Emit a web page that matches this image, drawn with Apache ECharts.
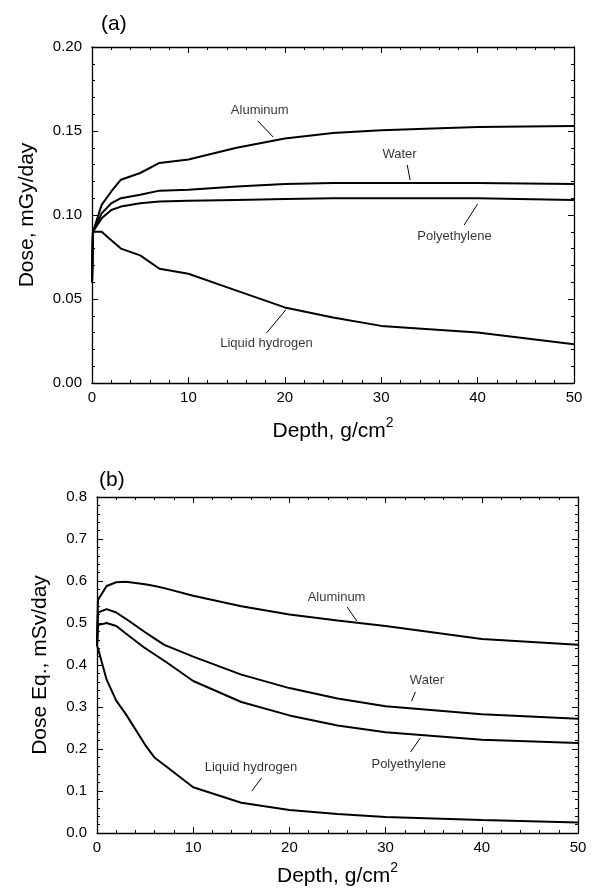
<!DOCTYPE html>
<html>
<head>
<meta charset="utf-8">
<script src="https://cdn.jsdelivr.net/npm/echarts@6/dist/echarts.min.js"></script>
<style>
html,body{margin:0;padding:0;background:#fff;}
#chart{width:595px;height:890px;}
</style>
</head>
<body>
<div id="chart"></div>
<script>
// ---------- Data ----------
const materials = ['Aluminum', 'Water', 'Polyethylene', 'Liquid hydrogen'];
const xTicks = [0, 10, 20, 30, 40, 50];

// Panel (a): Dose, mGy/day
const depthA = [0, 0.1, 1, 2, 3, 5, 7, 10, 15, 20, 25, 30, 40, 50];
const doseAluminum = [0.06, 0.09, 0.106, 0.114, 0.121, 0.125, 0.131, 0.133, 0.140, 0.1455, 0.1488, 0.1505, 0.1524, 0.153];
const doseWater = [0.06, 0.09, 0.101, 0.107, 0.110, 0.112, 0.1145, 0.115, 0.117, 0.1185, 0.119, 0.119, 0.119, 0.1185];
const dosePoly = [0.06, 0.09, 0.098, 0.103, 0.105, 0.107, 0.108, 0.1085, 0.109, 0.1095, 0.110, 0.110, 0.110, 0.109];
const doseLH2 = [0.06, 0.09, 0.09, 0.085, 0.080, 0.076, 0.068, 0.065, 0.055, 0.045, 0.039, 0.034, 0.030, 0.023];

// Panel (b): Dose Eq., mSv/day
const depthB = [0, 0.1, 1, 2, 3, 5, 6, 7, 10, 15, 20, 25, 30, 40, 50];
const eqAluminum = [0.445, 0.555, 0.588, 0.597, 0.598, 0.592, 0.588, 0.583, 0.565, 0.540, 0.520, 0.506, 0.493, 0.462, 0.448];
const eqWater = [0.445, 0.525, 0.533, 0.525, 0.510, 0.478, 0.463, 0.448, 0.420, 0.377, 0.345, 0.320, 0.302, 0.283, 0.272];
const eqPoly = [0.445, 0.495, 0.500, 0.493, 0.475, 0.440, 0.425, 0.410, 0.362, 0.312, 0.280, 0.256, 0.240, 0.222, 0.214];
const eqLH2 = [0.445, 0.44, 0.365, 0.315, 0.283, 0.210, 0.179, 0.162, 0.109, 0.072, 0.055, 0.045, 0.038, 0.031, 0.025];

// Annotation labels (data coordinates) and leader lines
const annotA = [
  {name: 'Aluminum', at: [17.4, 0.1625], from: [17.2, 0.156], to: [18.8, 0.1464]},
  {name: 'Water', at: [31.9, 0.1363], from: [32.7, 0.1298], to: [33.0, 0.1208]},
  {name: 'Polyethylene', at: [37.6, 0.0875], from: [40.0, 0.1065], to: [38.6, 0.094]},
  {name: 'Liquid hydrogen', at: [18.1, 0.0238], from: [20.1, 0.0435], to: [18.1, 0.0298]}
];
const annotB = [
  {name: 'Aluminum', at: [24.9, 0.562], from: [26.0, 0.538], to: [27.0, 0.505]},
  {name: 'Water', at: [34.3, 0.364], from: [33.1, 0.336], to: [32.7, 0.314]},
  {name: 'Polyethylene', at: [32.4, 0.164], from: [33.6, 0.226], to: [32.6, 0.193]},
  {name: 'Liquid hydrogen', at: [16.0, 0.157], from: [17.1, 0.131], to: [16.1, 0.100]}
];

// ---------- Chart ----------
const FONT = 'Liberation Sans, Arial, sans-serif';
const BLACK = '#000';
const zip = (xs, ys) => xs.map((x, i) => [x, ys[i]]);

function xAx(grid, pos, withLabels, gap) {
  return {
    type: 'value', gridIndex: grid, position: pos, min: 0, max: 50, interval: 10,
    axisLine: {show: true, onZero: false, lineStyle: {color: BLACK, width: 1.3}},
    axisTick: {show: true, inside: true, length: 6, lineStyle: {color: BLACK, width: 1}},
    minorTick: {show: true, splitNumber: 5, length: 3, lineStyle: {color: BLACK, width: 1}},
    splitLine: {show: false}, minorSplitLine: {show: false},
    axisLabel: {show: withLabels, color: BLACK, fontSize: 15, fontFamily: FONT, margin: 7},
    name: withLabels ? '{a|Depth, g/cm}{s|2}' : '',
    nameLocation: 'middle', nameGap: gap || 28,
    nameTextStyle: {
      color: BLACK, fontFamily: FONT,
      rich: {
        a: {fontSize: 21, fontFamily: FONT, color: BLACK, lineHeight: 26, verticalAlign: 'bottom'},
        s: {fontSize: 14, fontFamily: FONT, color: BLACK, lineHeight: 14, verticalAlign: 'top'}
      }
    }
  };
}
function yAx(grid, pos, withLabels, max, interval, dec, name, gap) {
  return {
    type: 'value', gridIndex: grid, position: pos, min: 0, max: max, interval: interval,
    axisLine: {show: true, onZero: false, lineStyle: {color: BLACK, width: 1.3}},
    axisTick: {show: true, inside: true, length: 6, lineStyle: {color: BLACK, width: 1}},
    minorTick: {show: true, splitNumber: 5, length: 3, lineStyle: {color: BLACK, width: 1}},
    splitLine: {show: false}, minorSplitLine: {show: false},
    axisLabel: {show: withLabels, color: BLACK, fontSize: 15, fontFamily: FONT, margin: 10,
      formatter: v => v.toFixed(dec)},
    name: withLabels ? name : '',
    nameLocation: 'middle', nameGap: gap,
    nameTextStyle: {color: BLACK, fontSize: 21, fontFamily: FONT}
  };
}
function curve(name, xs, ys, xi, yi) {
  return {
    name: name, type: 'line', xAxisIndex: xi, yAxisIndex: yi, data: zip(xs, ys),
    showSymbol: false, symbol: 'none', smooth: false,
    lineStyle: {color: BLACK, width: 2}, silent: true, z: 3
  };
}
function annotations(list, xi, yi) {
  return {
    type: 'scatter', xAxisIndex: xi, yAxisIndex: yi, symbolSize: 0, silent: true, z: 5,
    data: list.map(a => ({name: a.name, value: a.at})),
    label: {show: true, position: 'inside', formatter: '{b}', color: BLACK, fontSize: 13, fontFamily: FONT},
    markLine: {
      silent: true, symbol: ['none', 'none'],
      lineStyle: {color: BLACK, width: 1, type: 'solid'},
      label: {show: false},
      data: list.map(a => [{coord: a.from}, {coord: a.to}])
    }
  };
}

const chart = echarts.init(document.getElementById('chart'), null, {renderer: 'canvas'});
chart.setOption({
  animation: false,
  backgroundColor: '#fff',
  title: [
    {text: '(a)', left: 96, top: 9, textStyle: {fontSize: 21, fontWeight: 'normal', fontFamily: FONT, color: BLACK}},
    {text: '(b)', left: 94, top: 465, textStyle: {fontSize: 21, fontWeight: 'normal', fontFamily: FONT, color: BLACK}}
  ],
  grid: [
    {left: 92, top: 47, width: 482, height: 336},
    {left: 97, top: 497, width: 481, height: 336}
  ],
  xAxis: [xAx(0, 'bottom', true, 33), xAx(0, 'top', false), xAx(1, 'bottom', true, 28), xAx(1, 'top', false)],
  yAxis: [
    yAx(0, 'left', true, 0.2, 0.05, 2, 'Dose, mGy/day', 54),
    yAx(0, 'right', false, 0.2, 0.05, 2, '', 0),
    yAx(1, 'left', true, 0.8, 0.1, 1, 'Dose Eq., mSv/day', 46),
    yAx(1, 'right', false, 0.8, 0.1, 1, '', 0)
  ],
  series: [
    curve(materials[0], depthA, doseAluminum, 0, 0),
    curve(materials[1], depthA, doseWater, 0, 0),
    curve(materials[2], depthA, dosePoly, 0, 0),
    curve(materials[3], depthA, doseLH2, 0, 0),
    annotations(annotA, 0, 0),
    curve(materials[0], depthB, eqAluminum, 2, 2),
    curve(materials[1], depthB, eqWater, 2, 2),
    curve(materials[2], depthB, eqPoly, 2, 2),
    curve(materials[3], depthB, eqLH2, 2, 2),
    annotations(annotB, 2, 2)
  ]
});
</script>
</body>
</html>
